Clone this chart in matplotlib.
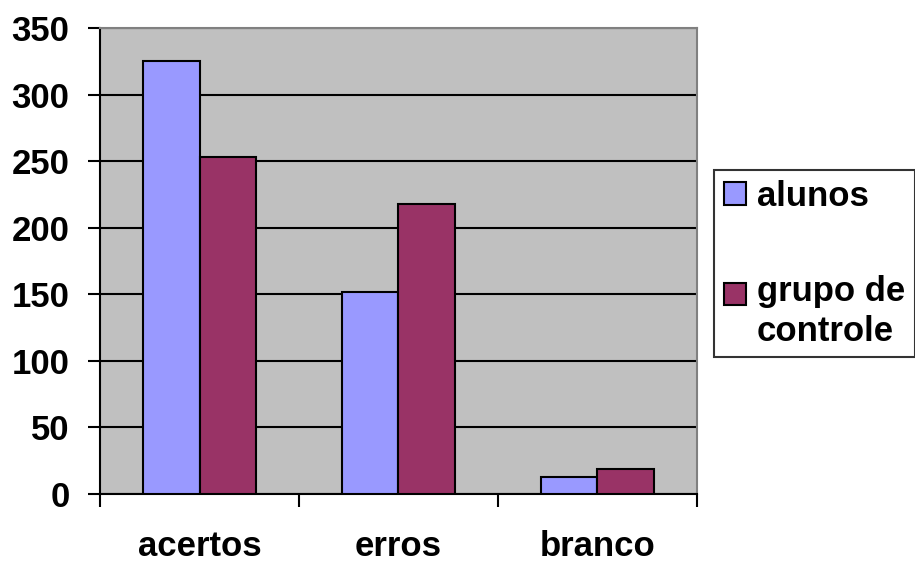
import matplotlib
matplotlib.use("Agg")
import matplotlib.pyplot as plt
import numpy as np

categories = ["acertos", "erros", "branco"]
alunos = [325, 152, 13]
grupo_controle = [253, 218, 19]
series_labels = ["alunos", "grupo de\ncontrole"]
yticks = [0, 50, 100, 150, 200, 250, 300, 350]

plt.rcParams["font.family"] = ["Liberation Sans", "DejaVu Sans"]
plt.rcParams["font.weight"] = "bold"
FS = 25

fig = plt.figure(figsize=(9.15, 5.62), dpi=100)
ax = fig.add_axes([0.1093, 0.121, 0.6524, 0.8292])
ax.set_facecolor("#C0C0C0")

x = np.arange(len(categories))
w = 0.286
ax.bar(x - w / 2, alunos, w, color="#9999FF", edgecolor="black", linewidth=1.5,
       label=series_labels[0], zorder=3)
ax.bar(x + w / 2, grupo_controle, w, color="#993366", edgecolor="black", linewidth=1.5,
       label=series_labels[1], zorder=3)

ax.set_xlim(-0.5, len(categories) - 0.5)
ax.set_ylim(0, 350)
ax.set_yticks(yticks)
ax.yaxis.grid(True, color="black", linewidth=1.5, zorder=1)
ax.set_axisbelow(True)

# category labels sit between the boundary ticks
ax.set_xticks(x)
ax.set_xticklabels(categories, fontsize=FS, fontweight="bold")
ax.tick_params(axis="x", length=0, pad=26)
ax.set_xticks(np.arange(len(categories) + 1) - 0.5, minor=True)
ax.tick_params(axis="x", which="minor", length=9, width=1.5, direction="out")
ax.tick_params(axis="y", length=9, width=1.5, direction="out", labelsize=FS, pad=13)
for lbl in ax.get_yticklabels():
    lbl.set_fontweight("bold")

ax.spines["left"].set_linewidth(1.5)
ax.spines["bottom"].set_linewidth(1.5)
ax.spines["top"].set_color("#808080")
ax.spines["right"].set_color("#808080")
ax.spines["top"].set_linewidth(1.5)
ax.spines["right"].set_linewidth(1.5)

leg = fig.legend(loc="upper left", bbox_to_anchor=(714 / 915, 1 - 170 / 562),
                 prop={"size": FS, "weight": "bold"}, frameon=True, fancybox=False,
                 edgecolor="black", handlelength=0.63, handleheight=0.63,
                 handletextpad=0.32, labelspacing=1.79, borderpad=0.28,
                 borderaxespad=0)
leg.get_frame().set_linewidth(1.5)
for t in leg.get_texts():
    t.set_linespacing(1.26)
# put the second swatch next to the first line of its two-line label
h2 = leg.legend_handles[1]
h2.set_y(h2.get_y() + 13)

fig.savefig("out.png", dpi=100)
